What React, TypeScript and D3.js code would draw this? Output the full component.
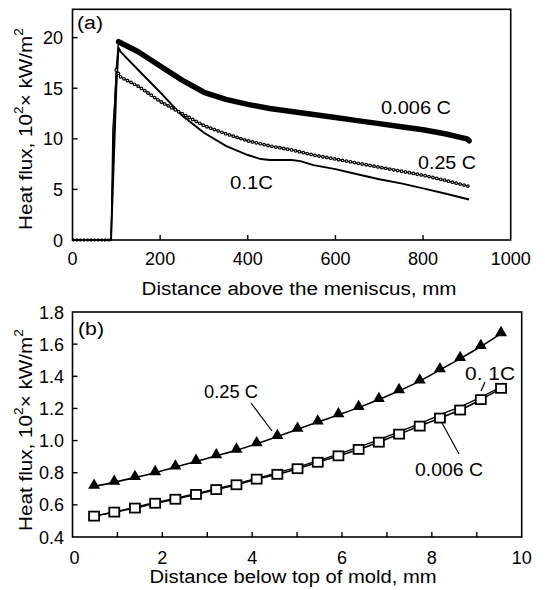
import React from 'react';
import * as d3 from 'd3';

// ---------- Panel (a) data ----------
const c006Dist = [0, 88, 95, 100, 105, 150, 200, 250, 300, 350, 400, 450, 500, 550, 600, 650, 700, 750, 800, 850, 900, 905];
const c006Flux = [0, 0, 12, 17, 19.6, 18.6, 17.2, 15.8, 14.6, 13.9, 13.4, 13.0, 12.7, 12.4, 12.1, 11.8, 11.5, 11.2, 10.9, 10.5, 10.0, 9.8];
const c025Dist = [0, 88, 92, 96, 100, 110, 150, 200, 250, 300, 350, 400, 450, 500, 550, 600, 650, 700, 750, 800, 850, 905];
const c025Flux = [0, 0, 11, 13.5, 16.8, 16.1, 15.2, 13.7, 12.5, 11.3, 10.5, 9.8, 9.3, 8.9, 8.4, 8.0, 7.6, 7.2, 6.8, 6.4, 5.9, 5.3];
const c01Dist = [0, 88, 100, 105, 110, 150, 200, 250, 300, 350, 400, 430, 450, 500, 520, 550, 600, 650, 700, 750, 800, 850, 905];
const c01Flux = [0, 0, 15, 19.0, 18.6, 16.8, 14.6, 12.3, 10.6, 9.3, 8.4, 8.0, 7.9, 7.9, 7.8, 7.4, 7.0, 6.5, 6.0, 5.6, 5.1, 4.6, 4.0];
const aXTicks = [0, 200, 400, 600, 800, 1000];
const aYTicks = [0, 5, 10, 15, 20];

// ---------- Panel (b) data ----------
const moldDist = [0.48, 0.93, 1.39, 1.84, 2.29, 2.75, 3.2, 3.65, 4.1, 4.56, 5.01, 5.46, 5.92, 6.37, 6.82, 7.27, 7.73, 8.18, 8.63, 9.09, 9.54];
const b025Flux = [0.715, 0.74, 0.77, 0.8, 0.835, 0.87, 0.905, 0.94, 0.98, 1.025, 1.07, 1.115, 1.16, 1.205, 1.255, 1.31, 1.37, 1.44, 1.51, 1.585, 1.665];
const b006Flux = [0.53, 0.555, 0.58, 0.61, 0.635, 0.665, 0.695, 0.725, 0.76, 0.79, 0.825, 0.865, 0.905, 0.945, 0.99, 1.04, 1.09, 1.14, 1.19, 1.255, 1.325];
const b01Flux = [0.53, 0.555, 0.585, 0.615, 0.64, 0.67, 0.7, 0.73, 0.765, 0.8, 0.835, 0.875, 0.915, 0.96, 1.005, 1.055, 1.105, 1.16, 1.21, 1.27, 1.335];
const bXTicks = [0, 2, 4, 6, 8, 10];
const bXMinor = [1, 3, 5, 7, 9];
const bYTicks = [0.4, 0.6, 0.8, 1.0, 1.2, 1.4, 1.6, 1.8];

const FONT = 'Liberation Sans, Arial, sans-serif';
const FS = 18;

type P = [number, number];
const zip = (a: number[], b: number[]): P[] => a.map((v, i) => [v, b[i]]);

export default function App() {
  const ax = d3.scaleLinear().domain([0, 1000]).range([72.5, 510.7]);
  const ay = d3.scaleLinear().domain([0, 22.8]).range([240, 9.3]);
  const aLine = d3.line<P>().x(d => ax(d[0])).y(d => ay(d[1]));

  const bx = d3.scaleLinear().domain([0, 10]).range([72.5, 521.7]);
  const by = d3.scaleLinear().domain([0.4, 1.8]).range([537, 312]);
  const bLine = d3.line<P>().x(d => bx(d[0])).y(d => by(d[1])).curve(d3.curveMonotoneX);

  const s006 = zip(c006Dist, c006Flux);
  const s025 = zip(c025Dist, c025Flux);
  const s01 = zip(c01Dist, c01Flux);
  const s006Rise = s006.filter(d => d[0] <= 105);
  const s006Band = s006.filter(d => d[0] >= 105);
  const s025Main = s025.filter(d => d[0] >= 100);
  const s025Rise = s025.filter(d => d[0] <= 100);
  const sBase = s006.filter(d => d[0] <= 88);

  const t025 = zip(moldDist, b025Flux);
  const t006 = zip(moldDist, b006Flux);
  const t01 = zip(moldDist, b01Flux);

  const tri = d3.symbol().type(d3.symbolTriangle).size(62)();

  const label = (x: number, y: number, s: string, w: number, anchor = 'start') => (
    <text x={x} y={y} textAnchor={anchor} fontFamily={FONT} fontSize={FS} textLength={w} lengthAdjust="spacingAndGlyphs">{s}</text>
  );

  const yLabel = (cx: number, cy: number) => (
    <text
      transform={`translate(${cx},${cy}) rotate(-90)`}
      textAnchor="middle"
      fontFamily={FONT}
      fontSize={FS}
      dominantBaseline="middle"
      textLength={202}
      lengthAdjust="spacingAndGlyphs"
    >
      Heat flux, 10<tspan dy={-7} fontSize={12}>2</tspan>
      <tspan dy={7}>× kW/m</tspan>
      <tspan dy={-7} fontSize={12}>2</tspan>
    </text>
  );

  return (
    <svg width={545} height={590} style={{ position: 'absolute', left: 0, top: 0, background: '#fff' }}>
      <rect x={0} y={0} width={545} height={590} fill="#fff" />
      {/* ===== Panel (a) ===== */}
      <g>
        <rect x={ax(0)} y={ay(22.8)} width={ax(1000) - ax(0)} height={ay(0) - ay(22.8)} fill="none" stroke="#000" strokeWidth={1.6} />
        {aXTicks.slice(1, -1).map(t => (
          <line key={t} x1={ax(t)} x2={ax(t)} y1={ay(0)} y2={ay(0) - 5} stroke="#000" strokeWidth={1.4} />
        ))}
        {aYTicks.slice(1).map(t => (
          <line key={t} x1={ax(0)} x2={ax(0) + 5} y1={ay(t)} y2={ay(t)} stroke="#000" strokeWidth={1.4} />
        ))}
        {aXTicks.map(t => (
          <text key={t} x={ax(t)} y={265} textAnchor="middle" fontFamily={FONT} fontSize={FS}>{t}</text>
        ))}
        {aYTicks.map(t => (
          <text key={t} x={63} y={ay(t) + 6.5} textAnchor="end" fontFamily={FONT} fontSize={FS}>{t}</text>
        ))}
        {label(299, 295, 'Distance above the meniscus, mm', 315, 'middle')}
        {yLabel(27, 129)}
        {label(77, 29, '(a)', 26)}

        <path d={aLine(sBase) || ''} fill="none" stroke="#000" strokeWidth={3} strokeDasharray="2 1.5" />
        <path d={aLine(s006Rise) || ''} fill="none" stroke="#000" strokeWidth={1.4} />
        <path d={aLine(s025Rise) || ''} fill="none" stroke="#000" strokeWidth={1.2} />
        <path d={aLine(s01) || ''} fill="none" stroke="#000" strokeWidth={1.9} strokeLinejoin="round" />
        <path d={aLine(s025Main) || ''} fill="none" stroke="#000" strokeWidth={1.2} />
        <path d={aLine(s025Main) || ''} fill="none" stroke="#000" strokeWidth={3.8} strokeDasharray="0 4" strokeLinecap="round" />
        <path d={aLine(s025Main) || ''} fill="none" stroke="#fff" strokeWidth={1.4} strokeDasharray="0 4" strokeLinecap="round" />
        <path d={aLine(s006Band) || ''} fill="none" stroke="#000" strokeWidth={5.5} strokeLinejoin="round" strokeLinecap="round" />

        {label(381, 114, '0.006 C', 70)}
        {label(418, 169, '0.25 C', 58)}
        {label(230, 189, '0.1C', 43)}
      </g>

      {/* ===== Panel (b) ===== */}
      <g>
        <rect x={bx(0)} y={by(1.8)} width={bx(10) - bx(0)} height={by(0.4) - by(1.8)} fill="none" stroke="#000" strokeWidth={1.6} />
        {[...bXTicks.slice(1, -1), ...bXMinor].map(t => (
          <line key={t} x1={bx(t)} x2={bx(t)} y1={by(0.4)} y2={by(0.4) - 5} stroke="#000" strokeWidth={1.4} />
        ))}
        {bYTicks.slice(1, -1).map(t => (
          <line key={t} x1={bx(0)} x2={bx(0) + 5} y1={by(t)} y2={by(t)} stroke="#000" strokeWidth={1.4} />
        ))}
        {bXTicks.map(t => (
          <text key={t} x={bx(t) + (t === 0 ? 2 : 0)} y={564} textAnchor="middle" fontFamily={FONT} fontSize={FS}>{t}</text>
        ))}
        {bYTicks.map(t => (
          <text key={t} x={64} y={by(t) + 6.5} textAnchor="end" fontFamily={FONT} fontSize={FS}>{t.toFixed(1)}</text>
        ))}
        {label(293, 583, 'Distance below top of mold, mm', 287, 'middle')}
        {yLabel(27, 430)}
        {label(78, 335, '(b)', 26)}

        <path d={bLine(t025) || ''} fill="none" stroke="#000" strokeWidth={1.6} />
        <path d={bLine(t01) || ''} fill="none" stroke="#000" strokeWidth={1.3} />
        <path d={bLine(t006) || ''} fill="none" stroke="#000" strokeWidth={1.6} />
        {t025.map((d, i) => (
          <path key={'t' + i} d={tri || ''} transform={`translate(${bx(d[0])},${by(d[1]) - 1})`} fill="#000" />
        ))}
        {t006.map((d, i) => (
          <rect key={'s' + i} x={bx(d[0]) - 5} y={by(d[1]) - 4.5} width={10} height={9} fill="#fff" stroke="#000" strokeWidth={1.8} />
        ))}

        {label(204, 398, '0.25 C', 54)}
        <line x1={251} y1={403} x2={272} y2={431} stroke="#000" strokeWidth={1.2} />
        {label(465, 380, '0.  1C', 50)}
        <line x1={485} y1={382} x2={481} y2={391} stroke="#000" strokeWidth={1.2} />
        {label(415, 476, '0.006 C', 68)}
        <line x1={442} y1={423} x2={459} y2={454} stroke="#000" strokeWidth={1.2} />
      </g>
    </svg>
  );
}
